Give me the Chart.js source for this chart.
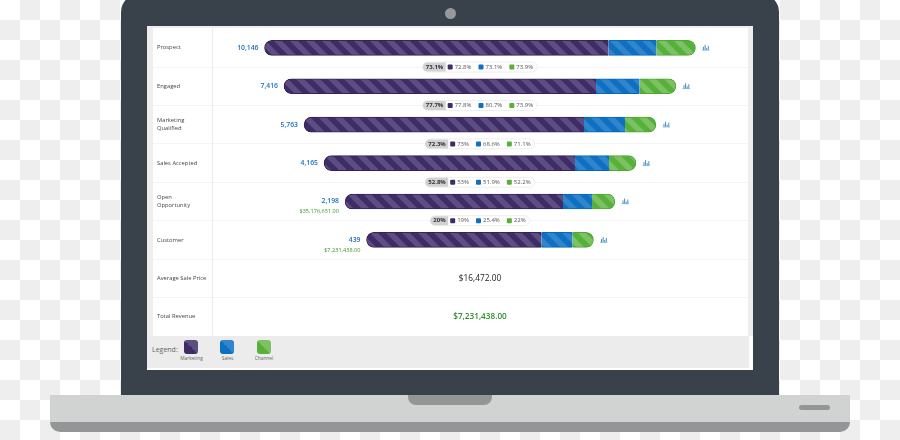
<!DOCTYPE html>
<html>
<head>
    <title>Funnel</title>
    <script src="https://cdn.jsdelivr.net/npm/chart.js"></script>
    <style>
        html, body { margin: 0; padding: 0; }
        body {
            width: 900px;
            height: 440px;
            position: relative;
            overflow: hidden;
            font-family: "Open Sans", sans-serif;
            background-color: #fff;
            background-image: conic-gradient(#eee 25%, #fff 0 50%, #eee 0 75%, #fff 0);
            background-size: 40px 40px;
        }
        div { position: absolute; }
        .frame { left: 121px; top: -6px; width: 658px; height: 401px; background: #39424a; border-radius: 18px 18px 0 0; }
        .camera { left: 444.5px; top: 7.5px; width: 11px; height: 11px; border-radius: 50%; background: #97999b; }
        .screen { left: 147px; top: 26px; width: 606px; height: 344px; background: #fff; }
        .panel { left: 147px; top: 26px; width: 606px; height: 310px; background: #eeeeee; }
        .white { left: 153px; top: 28px; width: 595px; height: 308px; background: #fff; }
        .legend { left: 147px; top: 336px; width: 602px; height: 32px; background: #ececec; }
        .base { left: 50px; top: 395px; width: 800px; height: 37px; background: #939597; border-radius: 0 0 10px 10px; }
        .deck { left: 50px; top: 395px; width: 800px; height: 26.5px; background: #d1d3d2; }
        .notch { left: 408px; top: 395px; width: 84px; height: 10px; background: #939597; border-radius: 0 0 8px 8px; }
        .slot { left: 799px; top: 405px; width: 31px; height: 5px; background: #939597; border-radius: 3px; }
        canvas { position: absolute; left: 147px; top: 26px; }
        .legend-title { left: 152px; top: 345px; font-size: 7px; color: #666; }
        .swatch { top: 340px; width: 14px; height: 14px; border-radius: 3px; }
        .swatch-label { top: 355px; width: 40px; text-align: center; font-size: 4.8px; color: #666; }
    </style>
</head>
<body>
    <div class="frame"></div>
    <div class="camera"></div>
    <div class="screen"></div>
    <div class="panel"></div>
    <div class="white"></div>
    <div class="legend"></div>
    <div class="base"></div>
    <div class="deck"></div>
    <div class="notch"></div>
    <div class="slot"></div>
    <canvas id="chart" width="606" height="310"></canvas>

    <div class="legend-title">Legend:</div>
    <div class="swatch" style="left:184px;background:linear-gradient(45deg,#3f2b66 50%,#5d4e82 50%)"></div>
    <div class="swatch" style="left:220px;background:linear-gradient(45deg,#0f6fc0 50%,#2f86cc 50%)"></div>
    <div class="swatch" style="left:256.5px;background:linear-gradient(45deg,#56b03a 50%,#7cc265 50%)"></div>
    <div class="swatch-label" style="left:171.5px">Marketing</div>
    <div class="swatch-label" style="left:207.5px">Sales</div>
    <div class="swatch-label" style="left:244px">Channel</div>

    <script>
        const categories = ["Prospect", "Engaged", ["Marketing", "Qualified"], "Sales Accepted", ["Open", "Opportunity"], "Customer", "Average Sale Price", "Total Revenue"];

        // segment lengths as drawn on the bars
        const marketing = [344, 312, 280, 251, 218, 175, null, null];
        const sales = [48, 43.5, 41, 34, 29, 31, null, null];
        const channel = [39, 36.5, 31, 27, 23, 21, null, null];

        const counts = ["10,146", "7,416", "5,763", "4,165", "2,198", "439"];
        const revenues = ["", "", "", "", "$35,176,651.00", "$7,231,438.00"];
        const overallPct = ["73.1%", "77.7%", "72.3%", "52.8%", "20%"];
        const marketingPct = ["72.8%", "77.8%", "73%", "53%", "19%"];
        const salesPct = ["73.1%", "80.7%", "68.6%", "51.9%", "25.4%"];
        const channelPct = ["73.9%", "73.9%", "71.1%", "52.2%", "22%"];
        const averagePrice = "$16,472.00";
        const totalRevenue = "$7,231,438.00";

        const axisSpan = 536;
        const purple = "#3f2b66", blue = "#0f6fc0", green = "#56b03a";

        function stripes(dark, light) {
            let tile = document.createElement("canvas");
            tile.width = 16;
            tile.height = 16;
            let c = tile.getContext("2d");
            c.fillStyle = dark;
            c.fillRect(0, 0, 16, 16);
            c.fillStyle = light;
            c.beginPath();
            c.moveTo(0, 0); c.lineTo(8, 0); c.lineTo(16, 8); c.lineTo(16, 16);
            c.closePath();
            c.moveTo(0, 8); c.lineTo(8, 16); c.lineTo(0, 16);
            c.closePath();
            c.fill();
            return c.createPattern(tile, "repeat");
        }

        // transparent lead-in keeps every bar centred on the axis
        const spacer = marketing.map((m, i) => m === null ? null : (axisSpan - m - sales[i] - channel[i]) / 2);

        const labelsPlugin = {
            id: "funnelLabels",
            afterDatasetsDraw(chart) {
                const ctx = chart.ctx, x = chart.scales.x, y = chart.scales.y;
                const mid = (x.left + x.right) / 2;
                ctx.save();
                ctx.textBaseline = "middle";

                counts.forEach((text, i) => {
                    let start = x.getPixelForValue(spacer[i]);
                    let end = x.getPixelForValue(axisSpan - spacer[i]);
                    let cy = y.getPixelForValue(i);
                    let hasRevenue = revenues[i] !== "";
                    ctx.textAlign = "right";
                    ctx.font = "600 6.8px 'Open Sans'";
                    ctx.fillStyle = "#1a6fbd";
                    ctx.fillText(text, start - 6, cy);
                    if (hasRevenue) {
                        ctx.font = "5.6px 'Open Sans'";
                        ctx.fillStyle = "#3a9a2a";
                        ctx.fillText(revenues[i], start - 6, cy + 10);
                    }
                    // little bar chart icon
                    ctx.fillStyle = "#4a90c8";
                    [3, 5, 2, 4].forEach((h, k) => ctx.fillRect(end + 7.5 + k * 1.6, cy + 2 - h, 1, h));
                    ctx.fillRect(end + 6.5, cy + 2, 7.5, 0.6);
                });

                overallPct.forEach((text, i) => {
                    let cy = (y.getPixelForValue(i) + y.getPixelForValue(i + 1)) / 2;
                    let items = [[marketingPct[i], purple], [salesPct[i], blue], [channelPct[i], green]];
                    ctx.font = "6px 'Open Sans'";
                    let headW = ctx.measureText(text).width + 6;
                    let bodyW = items.reduce((w, it) => w + 7 + ctx.measureText(it[0]).width + 7, 2) - 3;
                    let left = mid - (headW + bodyW) / 2;

                    ctx.beginPath();
                    ctx.roundRect(left, cy - 5, headW + bodyW, 10, 5);
                    ctx.fillStyle = "#fff";
                    ctx.fill();
                    ctx.strokeStyle = "#eeeeee";
                    ctx.lineWidth = 1;
                    ctx.stroke();
                    ctx.beginPath();
                    ctx.roundRect(left, cy - 4.5, headW, 9, [4.5, 0, 0, 4.5]);
                    ctx.fillStyle = "#d2d2d2";
                    ctx.fill();

                    ctx.textAlign = "left";
                    ctx.font = "700 6px 'Open Sans'";
                    ctx.fillStyle = "#333";
                    ctx.fillText(text, left + 3, cy);
                    let px = left + headW + 2;
                    ctx.font = "6px 'Open Sans'";
                    items.forEach(it => {
                        ctx.fillStyle = it[1];
                        ctx.beginPath();
                        ctx.roundRect(px, cy - 2.5, 5, 5, 1);
                        ctx.fill();
                        px += 7;
                        ctx.fillStyle = "#555";
                        ctx.fillText(it[0], px, cy);
                        px += ctx.measureText(it[0]).width + 7;
                    });
                });

                ctx.textAlign = "center";
                ctx.font = "8.3px 'Open Sans'";
                ctx.fillStyle = "#222";
                ctx.fillText(averagePrice, mid, y.getPixelForValue(6));
                ctx.font = "600 8.2px 'Open Sans'";
                ctx.fillStyle = "#2f8f2a";
                ctx.fillText(totalRevenue, mid, y.getPixelForValue(7));
                ctx.restore();
            }
        };

        new Chart(document.getElementById("chart"), {
            type: "bar",
            data: {
                labels: categories,
                datasets: [
                    { label: "spacer", data: spacer, backgroundColor: "transparent" },
                    { label: "Marketing", data: marketing, backgroundColor: stripes(purple, "#5d4e82"),
                      borderColor: "#35235a", borderWidth: { top: 1, bottom: 1, left: 1 },
                      borderRadius: { topLeft: 8, bottomLeft: 8 }, borderSkipped: false },
                    { label: "Sales", data: sales, backgroundColor: stripes(blue, "#2f86cc"),
                      borderColor: "#0d66b2", borderWidth: { top: 1, bottom: 1 }, borderSkipped: false },
                    { label: "Channel", data: channel, backgroundColor: stripes(green, "#7cc265"),
                      borderColor: "#4fa835", borderWidth: { top: 1, bottom: 1, right: 1 },
                      borderRadius: { topRight: 8, bottomRight: 8 }, borderSkipped: false }
                ]
            },
            options: {
                indexAxis: "y",
                responsive: false,
                animation: false,
                maintainAspectRatio: false,
                layout: { padding: { left: 10, right: 5, top: 2.6, bottom: 0 } },
                plugins: { legend: { display: false }, tooltip: { enabled: false } },
                datasets: { bar: { barThickness: 15 } },
                scales: {
                    x: { display: false, stacked: true, min: 0, max: axisSpan },
                    y: {
                        stacked: true,
                        afterFit(axis) { axis.width = 55; axis.paddingTop = 0; axis.paddingBottom = 0; },
                        border: { color: "#ececec" },
                        grid: {
                            color: ctx => ctx.index === 0 ? "transparent" : "#f4f4f4",
                            tickLength: 59
                        },
                        ticks: {
                            crossAlign: "far",
                            autoSkip: false,
                            color: "#444",
                            font: { family: "Open Sans", size: 5.8, lineHeight: 1.4 }
                        }
                    }
                }
            },
            plugins: [labelsPlugin]
        });
    </script>
</body>
</html>
